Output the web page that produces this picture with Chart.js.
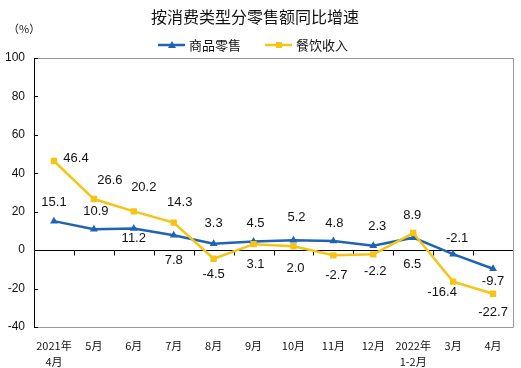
<!DOCTYPE html>
<html>
<head>
<meta charset="utf-8">
<script src="https://cdn.jsdelivr.net/npm/chart.js@4.4.1/dist/chart.umd.min.js"></script>
<style>
  html, body { margin: 0; padding: 0; background: #fff; }
  #wrap { width: 521px; height: 368px; }
</style>
</head>
<body>
<div id="wrap"><canvas id="retailChart" width="521" height="368"></canvas></div>
<script>
const months = [['2021年', '4月'], '5月', '6月', '7月', '8月', '9月', '10月', '11月', '12月', ['2022年', '1-2月'], '3月', '4月'];
const goodsRetail = [15.1, 10.9, 11.2, 7.8, 3.3, 4.5, 5.2, 4.8, 2.3, 6.5, -2.1, -9.7];
const cateringIncome = [46.4, 26.6, 20.2, 14.3, -4.5, 3.1, 2.0, -2.7, -2.2, 8.9, -16.4, -22.7];
const yTicks = [-40, -20, 0, 20, 40, 60, 80, 100];

const blue = '#1f63b5';
const yellow = '#f5c414';
const cjk = '"Noto Sans CJK SC", sans-serif';
const latin = '"Liberation Sans", Arial, sans-serif';

// label placement, [dx, dy] from each point
const goodsLabelPos = [[0, -19], [2, -18], [0, 10], [0, 25], [0, -20], [2, -18], [3, -23], [1, -17], [4, -19], [-1, 27], [4, -16], [0, 13]];
const cateringLabelPos = [[22, -3], [16, -19], [10, -24], [6, -20], [0, 16], [2, 20], [2, 22], [3, 20], [2, 17], [-1, -18], [-11, 11], [0, 19]];

const decorPlugin = {
    id: 'decor',
    beforeDatasetsDraw(chart) {
        const { ctx, chartArea: a, scales } = chart;
        ctx.save();
        // frame
        ctx.strokeStyle = '#9a9a9a';
        ctx.lineWidth = 1;
        ctx.beginPath();
        ctx.moveTo(a.left, a.top + 0.5);
        ctx.lineTo(a.right + 0.5, a.top + 0.5);
        ctx.lineTo(a.right + 0.5, a.bottom + 0.5);
        ctx.lineTo(a.left, a.bottom + 0.5);
        ctx.stroke();
        // inward y ticks
        ctx.strokeStyle = '#000';
        yTicks.forEach(v => {
            const y = Math.round(scales.y.getPixelForValue(v)) + 0.5;
            ctx.beginPath();
            ctx.moveTo(a.left, y);
            ctx.lineTo(a.left + 4, y);
            ctx.stroke();
        });
        // category ticks on the zero line
        const y0 = Math.round(scales.y.getPixelForValue(0)) + 0.5;
        for (let i = 1; i < months.length; i++) {
            const x = Math.round((scales.x.getPixelForValue(i - 1) + scales.x.getPixelForValue(i)) / 2) + 0.5;
            ctx.beginPath();
            ctx.moveTo(x, y0);
            ctx.lineTo(x, y0 + 5);
            ctx.stroke();
        }
        ctx.restore();
    },
    afterDatasetsDraw(chart) {
        const { ctx } = chart;
        ctx.save();
        ctx.font = '13px ' + latin;
        ctx.fillStyle = '#111';
        ctx.textAlign = 'center';
        ctx.textBaseline = 'middle';
        [[0, goodsRetail, goodsLabelPos], [1, cateringIncome, cateringLabelPos]].forEach(([di, vals, pos]) => {
            chart.getDatasetMeta(di).data.forEach((pt, i) => {
                ctx.fillText(vals[i].toFixed(1), pt.x + pos[i][0], pt.y + pos[i][1]);
            });
        });
        ctx.restore();
    },
    afterDraw(chart) {
        const { ctx } = chart;
        ctx.save();
        ctx.fillStyle = '#111';
        ctx.textBaseline = 'middle';
        ctx.textAlign = 'center';
        ctx.font = '16px ' + cjk;
        ctx.fillText('按消费类型分零售额同比增速', 255, 17);
        ctx.font = '11px ' + cjk;
        ctx.textAlign = 'left';
        ctx.fillText('（%）', 8, 29);
        // legend
        const items = [
            { x: 158, color: blue, style: 'tri', text: '商品零售' },
            { x: 265, color: yellow, style: 'sq', text: '餐饮收入' }
        ];
        const ly = 45;
        items.forEach(it => {
            ctx.strokeStyle = it.color;
            ctx.fillStyle = it.color;
            ctx.lineWidth = 2.5;
            ctx.beginPath();
            ctx.moveTo(it.x, ly);
            ctx.lineTo(it.x + 27, ly);
            ctx.stroke();
            const cx = it.x + 14;
            ctx.beginPath();
            if (it.style === 'tri') {
                ctx.moveTo(cx, ly - 4);
                ctx.lineTo(cx + 4, ly + 3);
                ctx.lineTo(cx - 4, ly + 3);
                ctx.closePath();
            } else {
                ctx.rect(cx - 3, ly - 3, 6, 6);
            }
            ctx.fill();
            ctx.fillStyle = '#111';
            ctx.font = '13px ' + cjk;
            ctx.textAlign = 'left';
            ctx.fillText(it.text, it.x + 31, ly);
        });
        ctx.restore();
    }
};

new Chart(document.getElementById('retailChart').getContext('2d'), {
    type: 'line',
    data: {
        labels: months,
        datasets: [{
            label: '商品零售',
            data: goodsRetail,
            borderColor: blue,
            backgroundColor: blue,
            borderWidth: 2.5,
            pointStyle: 'triangle',
            pointRadius: 4.5,
            pointBorderWidth: 0,
            tension: 0,
            order: 1
        }, {
            label: '餐饮收入',
            data: cateringIncome,
            borderColor: yellow,
            backgroundColor: yellow,
            borderWidth: 2.5,
            pointStyle: 'rect',
            pointRadius: 4.5,
            pointBorderWidth: 0,
            tension: 0,
            order: 0
        }]
    },
    options: {
        responsive: false,
        animation: false,
        events: [],
        layout: { padding: { top: 58, right: 8, left: 0, bottom: 0 } },
        plugins: {
            legend: { display: false },
            title: { display: false },
            tooltip: { enabled: false }
        },
        scales: {
            x: {
                offset: true,
                grid: { display: false },
                border: { display: false },
                ticks: {
                    color: '#111',
                    font: { family: cjk, size: 11, lineHeight: '16px' },
                    padding: 3,
                    maxRotation: 0,
                    autoSkip: false
                },
                afterFit(scale) { scale.height = 41; }
            },
            y: {
                min: -40,
                max: 100,
                afterBuildTicks(scale) { scale.ticks = yTicks.map(v => ({ value: v })); },
                grid: {
                    drawTicks: false,
                    color: c => (c.tick && c.tick.value === 0 ? '#000' : 'rgba(0,0,0,0)'),
                    lineWidth: 1
                },
                border: { display: true, color: '#000', width: 1 },
                ticks: {
                    color: '#111',
                    font: { family: latin, size: 12 },
                    padding: 9
                },
                afterFit(scale) { scale.width = 34; }
            }
        }
    },
    plugins: [decorPlugin]
});
</script>
</body>
</html>
